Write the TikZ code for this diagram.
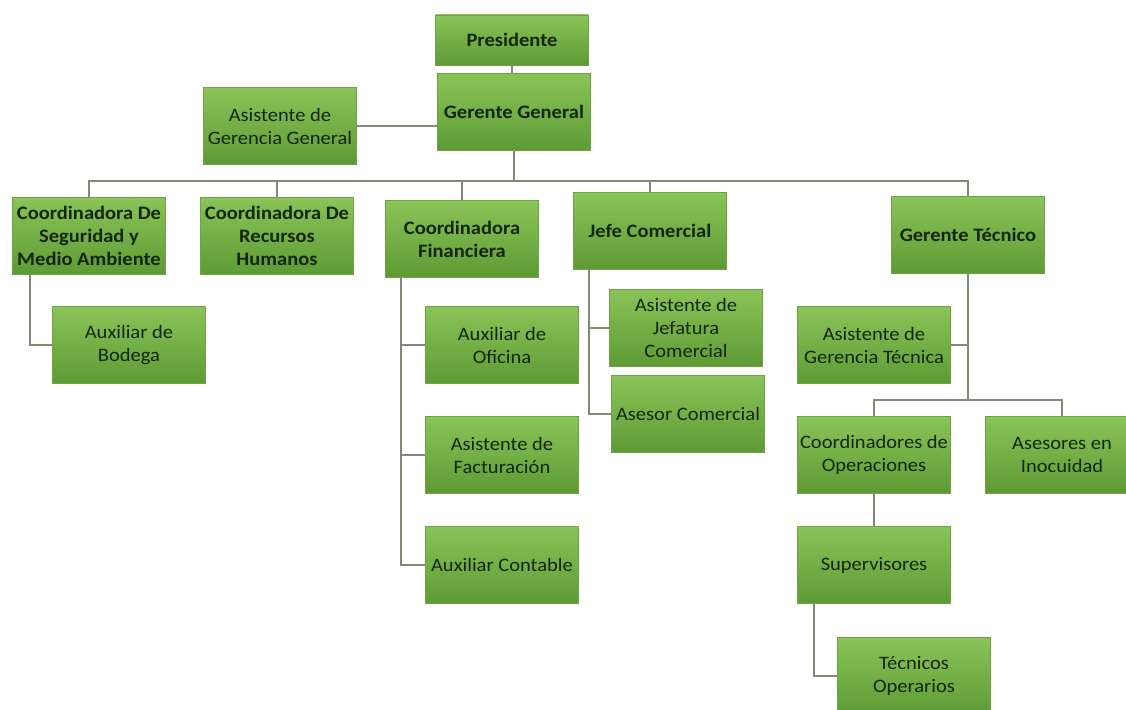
\documentclass[tikz,border=0pt]{standalone}
\usepackage{fontspec}
\setmainfont{Carlito}[FakeStretch=1.08]
\definecolor{boxtop}{RGB}{138,196,88}
\definecolor{boxbot}{RGB}{94,154,52}
\definecolor{boxline}{RGB}{110,164,70}
\definecolor{wirecol}{RGB}{128,138,118}
\definecolor{ink}{RGB}{20,38,10}
\begin{document}
\begin{tikzpicture}[x=1pt,y=-1pt,
  cargo/.style={draw=boxline, top color=boxtop, bottom color=boxbot,
    minimum width=153pt, minimum height=77pt, inner sep=0pt, align=center,
    text=ink, font=\fontsize{19}{23}\selectfont},
  mando/.style={cargo, font=\fontsize{19}{23}\selectfont\bfseries},
  wire/.style={draw=wirecol, line width=2pt}]
\useasboundingbox (0,0) rectangle (1126,709);
%%% top of the chart
\node[mando, minimum height=50pt] (pres) at (512,40) {Presidente};
\node[mando] (gg) at (514,112) {Gerente General};
\node[cargo] (agg) at (280,126) {Asistente de\\Gerencia General};
%%% the five areas
\node[mando] (cseg) at (89,236) {Coordinadora De\\Seguridad y\\Medio Ambiente};
\node[mando] (crh) at (277,236) {Coordinadora De\\Recursos\\Humanos};
\node[mando] (cfin) at (462,239) {Coordinadora\\Financiera};
\node[mando] (jcom) at (650,231) {Jefe Comercial};
\node[mando] (gtec) at (968,235) {Gerente Técnico};
%%% staff under each area
\node[cargo] (abod) at (129,345) {Auxiliar de\\Bodega};
\node[cargo] (aofi) at (502,345) {Auxiliar de\\Oficina};
\node[cargo] (afac) at (502,455) {Asistente de\\Facturación};
\node[cargo] (acon) at (502,565) {Auxiliar Contable};
\node[cargo] (ajef) at (686,328) {Asistente de\\Jefatura\\Comercial};
\node[cargo] (acom) at (688,414) {Asesor Comercial};
\node[cargo] (agt) at (874,345) {Asistente de\\Gerencia Técnica};
\node[cargo] (cope) at (874,455) {Coordinadores de\\Operaciones};
\node[cargo] (ainoc) at (1062,455) {Asesores en\\Inocuidad};
\node[cargo] (sup) at (874,565) {Supervisores};
\node[cargo] (tope) at (914,676) {Técnicos\\Operarios};
% \node[cargo] (extra) at (1062,565) {};
%%% connectors
\coordinate (bus) at (514,181);
\coordinate (gbus) at (968,400);
\draw[wire] (pres.south) -- (pres.south |- gg.north);
\draw[wire] (agg.east) -- (agg.east -| gg.west);
\draw[wire] (gg.south) -- (bus);
\foreach \n in {cseg,crh,cfin,jcom,gtec}
  \draw[wire] (bus) -| (\n.north);
\draw[wire] ([xshift=18pt]cseg.south west) |- (abod.west);
\foreach \n in {aofi,afac,acon}
  \draw[wire] ([xshift=16pt]cfin.south west) |- (\n.west);
\foreach \n in {ajef,acom}
  \draw[wire] ([xshift=16pt]jcom.south west) |- (\n.west);
\draw[wire] (gtec.south) |- (agt.east);
\draw[wire] (gtec.south) -- (gbus);
\draw[wire] (gbus) -| (cope.north);
\draw[wire] (gbus) -| (ainoc.north);
\draw[wire] (cope.south) -- (sup.north);
\draw[wire] ([xshift=17pt]sup.south west) |- (tope.west);
\end{tikzpicture}
\end{document}
